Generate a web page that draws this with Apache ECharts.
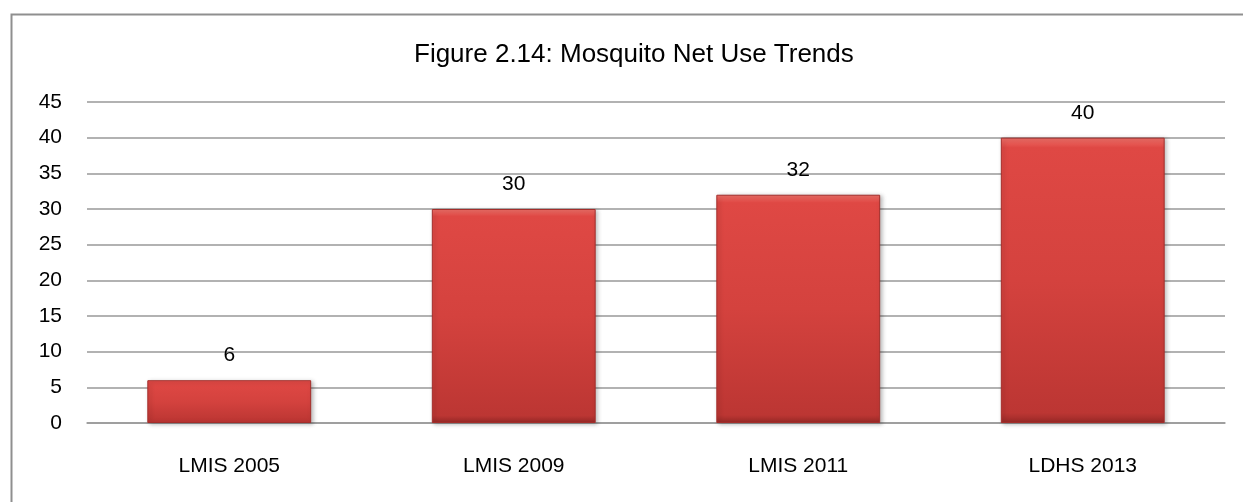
<!DOCTYPE html>
<html>
<head>
<meta charset="utf-8">
<script src="https://cdn.jsdelivr.net/npm/echarts@6/dist/echarts.min.js"></script>
<style>
  html, body { margin: 0; padding: 0; background: #fff; }
  #chart { width: 1243px; height: 502px; }
</style>
</head>
<body>
<div id="chart"></div>
<script>
// Survey rounds and the share of mosquito net use (%)
const categories = ['LMIS 2005', 'LMIS 2009', 'LMIS 2011', 'LDHS 2013'];
const netUse = [6, 30, 32, 40];
const yTicks = { min: 0, max: 45, interval: 5 };

const FONT = '"Liberation Sans", Arial, sans-serif';

const chart = echarts.init(document.getElementById('chart'), null, { renderer: 'canvas' });

// vertical shading of the bars: bright top edge, deep bottom edge
const barFill = new echarts.graphic.LinearGradient(0, 0, 0, 1, [
  { offset: 0, color: '#F07069' },
  { offset: 0.035, color: '#DF4844' },
  { offset: 0.5, color: '#D4423E' },
  { offset: 0.965, color: '#BC3633' },
  { offset: 1, color: '#982927' }
]);

chart.setOption({
  animation: false,
  backgroundColor: '#ffffff',
  title: {
    text: 'Figure 2.14: Mosquito Net Use Trends',
    left: 409,
    top: 37,
    textStyle: { fontFamily: FONT, fontSize: 26, fontWeight: 'normal', color: '#000' }
  },
  graphic: [{
    type: 'rect',
    left: 9,
    top: 12,
    shape: { width: 1300, height: 600 },
    style: { fill: 'none', stroke: '#8f8f8f', lineWidth: 2 },
    silent: true
  }],
  grid: { left: 87, right: 18, top: 102, bottom: 79, containLabel: false },
  xAxis: {
    type: 'category',
    data: categories,
    axisLine: { show: true, lineStyle: { color: '#999', width: 1.5 } },
    axisTick: { show: false },
    axisLabel: { margin: 33, fontFamily: FONT, fontSize: 21, color: '#000' }
  },
  yAxis: {
    type: 'value',
    min: yTicks.min,
    max: yTicks.max,
    interval: yTicks.interval,
    axisLine: { show: false },
    axisTick: { show: false },
    axisLabel: { margin: 25, fontFamily: FONT, fontSize: 21, color: '#000' },
    splitLine: { lineStyle: { color: '#999', width: 1.5 } }
  },
  series: [{
    type: 'bar',
    data: netUse,
    barWidth: '57.6%',
    itemStyle: {
      color: barFill,
      borderColor: '#A32E2B',
      borderWidth: 1,
      shadowColor: 'rgba(0,0,0,0.25)',
      shadowBlur: 4,
      shadowOffsetX: 2,
      shadowOffsetY: 1
    },
    label: {
      show: true,
      position: 'top',
      distance: 14,
      fontFamily: FONT,
      fontSize: 21,
      color: '#000'
    }
  }]
});
</script>
</body>
</html>
